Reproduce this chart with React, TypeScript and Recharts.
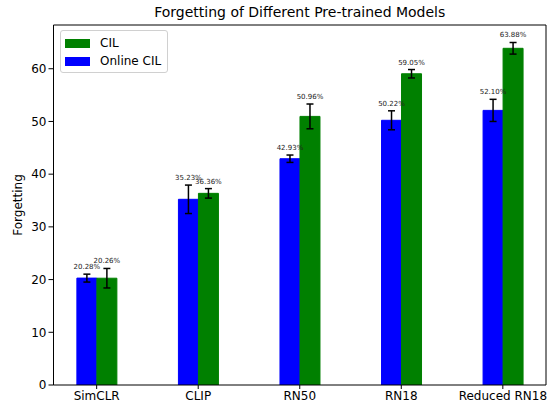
import { BarChart, Bar, XAxis, YAxis, ErrorBar, LabelList, ReferenceLine } from 'recharts';

const categories = ['SimCLR', 'CLIP', 'RN50', 'RN18', 'Reduced RN18'];
const onlineCil = [20.28, 35.23, 42.93, 50.22, 52.1];
const cil = [20.26, 36.36, 50.96, 59.05, 63.88];
const onlineErr = [0.75, 2.7, 0.7, 1.8, 2.1];
const cilErr = [1.85, 0.9, 2.35, 0.8, 1.1];
const yTicks = [0, 10, 20, 30, 40, 50, 60];

const FONT = '"DejaVu Sans", sans-serif';
const Y_MAX = 68.3;
const X_DOMAIN = [-0.425, 4.425];
const PLOT_TOP = 25;
const PLOT_BOTTOM = 385;
const PX_PER_UNIT = (PLOT_BOTTOM - PLOT_TOP) / Y_MAX;

const data = categories.map((name, i) => ({
  x: i,
  name,
  online: onlineCil[i],
  cil: cil[i],
  onlineErr: onlineErr[i],
  cilErr: cilErr[i],
}));

function makeLabel(errs: number[]) {
  return (props: any) => {
    const { x, y, width, value, index } = props;
    const top = y - errs[index] * PX_PER_UNIT;
    return (
      <text
        x={x + width / 2}
        y={top - 5}
        textAnchor="middle"
        fontSize={7}
        fontFamily={FONT}
        fill="#222"
      >
        {`${Number(value).toFixed(2)}%`}
      </text>
    );
  };
}

function LegendBox() {
  const items = [
    { label: 'CIL', color: '#008000' },
    { label: 'Online CIL', color: '#0000ff' },
  ];
  return (
    <div
      style={{
        position: 'absolute',
        left: 60,
        top: 30,
        border: '1px solid #d0d0d0',
        borderRadius: 3,
        background: 'rgba(255,255,255,0.8)',
        padding: '3px 6px 2px 4px',
        fontFamily: FONT,
        fontSize: 12,
        color: '#000',
      }}
    >
      {items.map((it) => (
        <div key={it.label} style={{ display: 'flex', alignItems: 'center', height: 18 }}>
          <span style={{ width: 25, height: 9, background: it.color, marginRight: 10 }} />
          <span>{it.label}</span>
        </div>
      ))}
    </div>
  );
}

export default function App() {
  return (
    <div style={{ position: 'absolute', left: 0, top: 0, width: 550, height: 406, background: '#fff' }}>
      <div
        style={{
          position: 'absolute',
          top: 4,
          left: 53.5,
          width: 492.5,
          textAlign: 'center',
          fontFamily: FONT,
          fontSize: 14,
          color: '#000',
        }}
      >
        Forgetting of Different Pre-trained Models
      </div>
      <div
        style={{
          position: 'absolute',
          left: 18,
          top: 205,
          transform: 'translate(-50%, -50%) rotate(-90deg)',
          fontFamily: FONT,
          fontSize: 12,
          color: '#000',
          whiteSpace: 'nowrap',
        }}
      >
        Forgetting
      </div>
      <BarChart
        width={550}
        height={406}
        data={data}
        margin={{ top: PLOT_TOP, right: 4, bottom: 0, left: 0.5 }}
        barGap={0}
        barSize={20}
      >
        <XAxis
          dataKey="x"
          type="number"
          domain={X_DOMAIN}
          ticks={[0, 1, 2, 3, 4]}
          tickFormatter={(v: number) => categories[v]}
          allowDataOverflow
          height={21}
          stroke="#000"
          tickSize={4}
          tickMargin={2}
          tick={{ fill: '#000', fontSize: 12, fontFamily: FONT }}
          interval={0}
        />
        <YAxis
          type="number"
          domain={[0, Y_MAX]}
          ticks={yTicks}
          allowDataOverflow
          width={53}
          stroke="#000"
          tickSize={5}
          tickMargin={2}
          tick={{ fill: '#000', fontSize: 12, fontFamily: FONT }}
        />
        <ReferenceLine y={Y_MAX} stroke="#000" />
        <ReferenceLine x={X_DOMAIN[1]} stroke="#000" />
        <Bar dataKey="online" name="Online CIL" fill="#0000ff" stroke="#0000ff" strokeWidth={1} isAnimationActive={false}>
          <ErrorBar dataKey="onlineErr" width={3.5} stroke="#000" strokeWidth={1.5} />
          <LabelList dataKey="online" content={makeLabel(onlineErr)} />
        </Bar>
        <Bar dataKey="cil" name="CIL" fill="#008000" stroke="#008000" strokeWidth={1} isAnimationActive={false}>
          <ErrorBar dataKey="cilErr" width={3.5} stroke="#000" strokeWidth={1.5} />
          <LabelList dataKey="cil" content={makeLabel(cilErr)} />
        </Bar>
      </BarChart>
      <LegendBox />
    </div>
  );
}
